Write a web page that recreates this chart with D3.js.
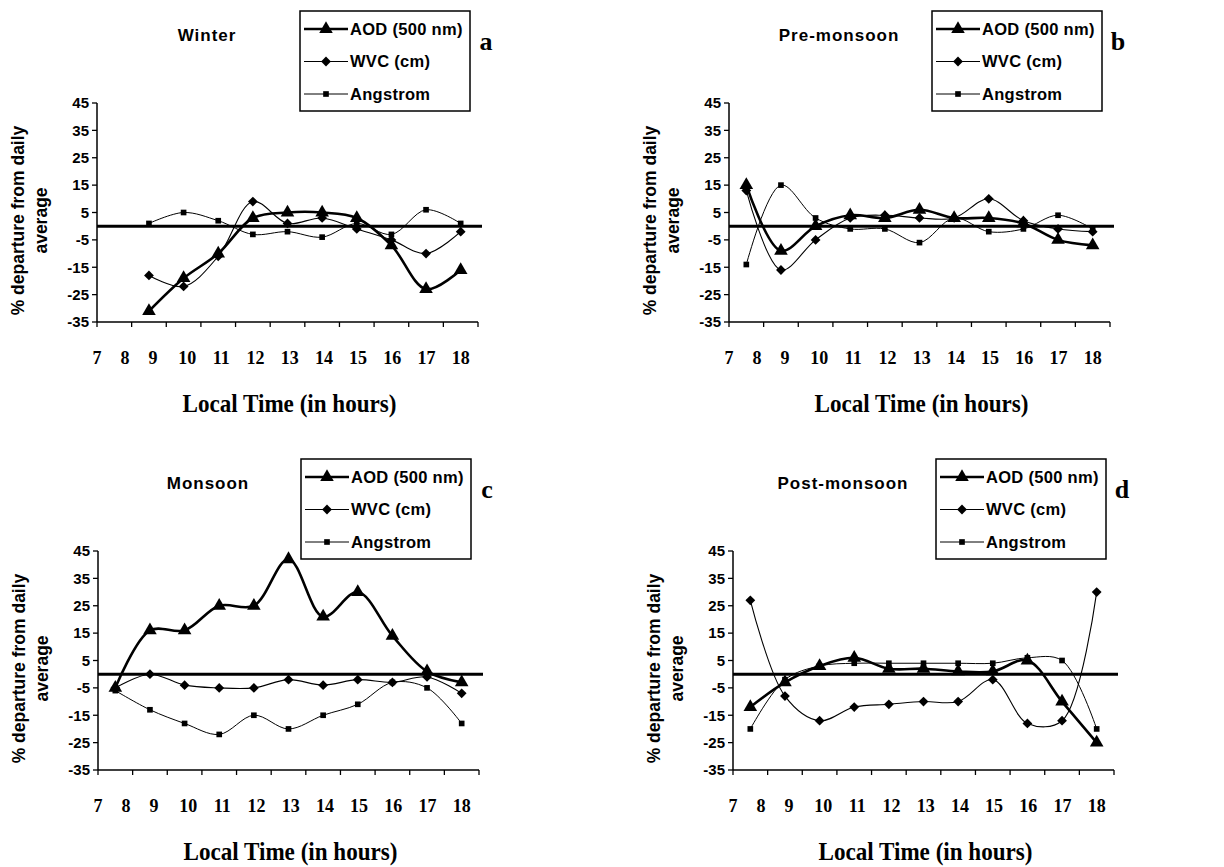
<!DOCTYPE html>
<html>
<head>
<meta charset="utf-8">
<script src="https://cdn.jsdelivr.net/npm/d3@7"></script>
<style>
body { margin: 0; background: #fff; }
svg { display: block; }
.sans { font-family: Arial, "Liberation Sans", sans-serif; font-weight: bold; }
.serif { font-family: "Times New Roman", "Liberation Serif", serif; font-weight: bold; }
</style>
</head>
<body>
<svg id="chart" width="1224" height="867"></svg>
<script>
// hour labels under each x axis, and the 11 hourly slots the points sit in
var hours = [7, 8, 9, 10, 11, 12, 13, 14, 15, 16, 17, 18];
var slots = [0, 1, 2, 3, 4, 5, 6, 7, 8, 9, 10];
var yTicks = [45, 35, 25, 15, 5, -5, -15, -25, -35];
var seriesNames = ['AOD (500 nm)', 'WVC (cm)', 'Angstrom'];

// % departure from daily average, one value per slot
var winterAOD = [null, -31, -19, -10, 3, 5, 5, 3, -7, -23, -16];
var winterWVC = [null, -18, -22, -11, 9, 1, 3, -1, -5, -10, -2];
var winterAng = [null, 1, 5, 2, -3, -2, -4, 1, -3, 6, 1];

var preAOD = [15, -9, 0, 4, 3, 6, 3, 3, 1, -5, -7];
var preWVC = [13, -16, -5, 3, 4, 3, 3, 10, 2, -1, -2];
var preAng = [-14, 15, 3, -1, -1, -6, 3, -2, -1, 4, -1];

var monAOD = [-5, 16, 16, 25, 25, 42, 21, 30, 14, 1, -3];
var monWVC = [-5, 0, -4, -5, -5, -2, -4, -2, -3, -1, -7];
var monAng = [-6, -13, -18, -22, -15, -20, -15, -11, -3, -5, -18];

var postAOD = [-12, -3, 3, 6, 2, 2, 1, 1, 5, -10, -25];
var postWVC = [27, -8, -17, -12, -11, -10, -10, -2, -18, -17, 30];
var postAng = [-20, -2, 3, 4, 4, 4, 4, 4, 6, 5, -20];

var panels = [
    { letter: 'a', title: 'Winter', left: 97, top: 103, series: [winterAOD, winterWVC, winterAng] },
    { letter: 'b', title: 'Pre-monsoon', left: 729, top: 103, series: [preAOD, preWVC, preAng] },
    { letter: 'c', title: 'Monsoon', left: 98, top: 551, series: [monAOD, monWVC, monAng] },
    { letter: 'd', title: 'Post-monsoon', left: 733, top: 551, series: [postAOD, postWVC, postAng] }
];

var W = 381, H = 219;

// line width and marker for each series
var styles = [
    { width: 2.6, symbol: d3.symbolTriangle, size: 80, rotate: 0 },
    { width: 1.1, symbol: d3.symbolSquare, size: 48, rotate: 45 },
    { width: 1.0, symbol: d3.symbolSquare, size: 32, rotate: 0 }
];

var svg = d3.select('#chart');

var x = d3.scaleBand().domain(slots).range([0, W]);
var y = d3.scaleLinear().domain([-35, 45]).range([H, 0]);
var cx = function (i) { return x(i) + x.bandwidth() / 2; };
// the hour labels are not spread evenly in the original figure
var hourX = d3.scaleLinear().domain([7, 9, 18]).range([0, cx(1) + 4, cx(10)]);

panels.forEach(function (p) {
    var g = svg.append('g').attr('transform', 'translate(' + p.left + ',' + p.top + ')');

    // zero line
    g.append('line')
        .attr('x1', 0).attr('x2', W + 4)
        .attr('y1', y(0)).attr('y2', y(0))
        .attr('stroke', '#000').attr('stroke-width', 3);

    // y axis
    g.append('line')
        .attr('x1', 0).attr('x2', 0).attr('y1', 0).attr('y2', H)
        .attr('stroke', '#000').attr('stroke-width', 1.5);
    g.selectAll('.ytick').data(yTicks).enter().append('line')
        .attr('x1', -5).attr('x2', 0)
        .attr('y1', function (d) { return y(d); }).attr('y2', function (d) { return y(d); })
        .attr('stroke', '#000').attr('stroke-width', 1.3);
    g.selectAll('.ylab').data(yTicks).enter().append('text')
        .attr('class', 'sans')
        .attr('x', -8).attr('y', function (d) { return y(d); })
        .attr('dy', '0.35em').attr('text-anchor', 'end')
        .attr('font-size', 15)
        .text(function (d) { return d; });

    // x axis
    g.append('line')
        .attr('x1', 0).attr('x2', W).attr('y1', H).attr('y2', H)
        .attr('stroke', '#000').attr('stroke-width', 1.5);
    g.selectAll('.xtick').data(d3.range(slots.length + 1)).enter().append('line')
        .attr('x1', function (i) { return i * x.step(); })
        .attr('x2', function (i) { return i * x.step(); })
        .attr('y1', H).attr('y2', H + 5)
        .attr('stroke', '#000').attr('stroke-width', 1.3);
    g.selectAll('.xlab').data(hours).enter().append('text')
        .attr('class', 'serif')
        .attr('x', function (d) { return hourX(d); })
        .attr('y', H + 36).attr('dy', '0.35em')
        .attr('text-anchor', 'middle')
        .attr('font-size', 18)
        .text(function (d) { return d; });

    g.append('text')
        .attr('class', 'serif')
        .attr('x', W / 2 + 2).attr('y', H + 81).attr('dy', '0.35em')
        .attr('text-anchor', 'middle')
        .attr('font-size', 25)
        .attr('textLength', 214)
        .attr('lengthAdjust', 'spacingAndGlyphs')
        .text('Local Time (in hours)');

    // y axis title, two lines
    [['% departure from daily', -79], ['average', -56]].forEach(function (t) {
        g.append('text')
            .attr('class', 'sans')
            .attr('transform', 'translate(' + t[1] + ',' + (H / 2 + 8) + ') rotate(-90)')
            .attr('dy', '0.35em')
            .attr('text-anchor', 'middle')
            .attr('font-size', 17.5)
            .text(t[0]);
    });

    // panel title and letter
    g.append('text')
        .attr('class', 'sans')
        .attr('x', 110).attr('y', -68).attr('dy', '0.35em')
        .attr('text-anchor', 'middle')
        .attr('font-size', 17)
        .attr('letter-spacing', 1)
        .text(p.title);
    g.append('text')
        .attr('class', 'serif')
        .attr('x', 389).attr('y', -53)
        .attr('text-anchor', 'middle')
        .attr('font-size', 26)
        .text(p.letter);

    // series
    p.series.forEach(function (vals, k) {
        var st = styles[k];
        var line = d3.line()
            .defined(function (d) { return d !== null; })
            .x(function (d, i) { return cx(i); })
            .y(function (d) { return y(d); })
            .curve(d3.curveCatmullRom.alpha(0.5));
        g.append('path')
            .datum(vals)
            .attr('d', line)
            .attr('fill', 'none')
            .attr('stroke', '#000')
            .attr('stroke-width', st.width);
        g.selectAll('.m' + k)
            .data(vals.map(function (v, i) { return { v: v, i: i }; })
                .filter(function (d) { return d.v !== null; }))
            .enter().append('path')
            .attr('transform', function (d) {
                return 'translate(' + cx(d.i) + ',' + y(d.v) + ') rotate(' + st.rotate + ')';
            })
            .attr('d', d3.symbol().type(st.symbol).size(st.size))
            .attr('fill', '#000');
    });

    // legend
    var lg = g.append('g').attr('transform', 'translate(203,-92)');
    lg.append('rect')
        .attr('width', 170).attr('height', 100)
        .attr('fill', '#fff').attr('stroke', '#000').attr('stroke-width', 1.5);
    seriesNames.forEach(function (name, k) {
        var st = styles[k];
        var ry = 18 + k * 32.5;
        lg.append('line')
            .attr('x1', 4).attr('x2', 48).attr('y1', ry).attr('y2', ry)
            .attr('stroke', '#000').attr('stroke-width', st.width);
        lg.append('path')
            .attr('transform', 'translate(26,' + ry + ') rotate(' + st.rotate + ')')
            .attr('d', d3.symbol().type(st.symbol).size(st.size))
            .attr('fill', '#000');
        lg.append('text')
            .attr('class', 'sans')
            .attr('x', 50).attr('y', ry).attr('dy', '0.35em')
            .attr('font-size', 16.5)
            .attr('letter-spacing', 0.3)
            .text(name);
    });
});
</script>
</body>
</html>
